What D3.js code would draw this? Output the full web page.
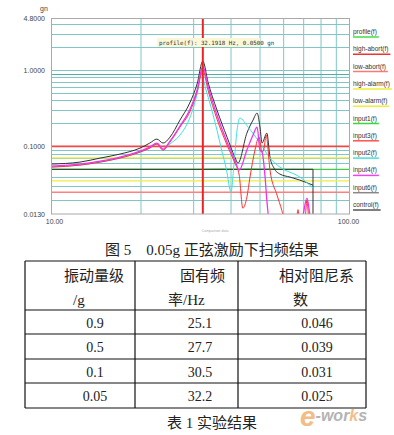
<!DOCTYPE html>
<html>
<head>
<meta charset="utf-8" />
<title>扫频结果</title>
<script src="https://d3js.org/d3.v7.min.js"></script>
<style>
  body { margin: 0; background: #fff; }
  .tick text { font-family: "Liberation Sans", Arial, sans-serif; font-size: 7px; fill: #444; }
  .cn { font-family: "Liberation Serif", "Noto Sans CJK SC", serif; fill: #222; }
</style>
</head>
<body>
<svg id="chart" width="394" height="435"></svg>
<script>
// x ticks, y ticks
var xTicks = [10, 100];
var yTicks = [4.8, 1, 0.1, 0.013];
var xGrid = [20, 30, 40, 50, 60, 70, 80, 90];
var yGrid = [4, 3, 2, 1, 0.9, 0.8, 0.7, 0.6, 0.5, 0.4, 0.3, 0.2,
             0.09, 0.08, 0.07, 0.06, 0.05, 0.04, 0.03, 0.02];

// limit lines (gn)
var limitNames  = ["high-abort", "low-abort", "high-alarm", "low-alarm", "profile"];
var limitValues = [0.1, 0.025, 0.0707, 0.0354, 0.05];
var limitColors = ["#f04848", "#ff8080", "#eeee40", "#eeee40", "#44cc44"];
var cursorFreq = 32.1918;

// measured curves
var input2F = [10, 12.5, 14.6, 17.0, 19.85, 21.4, 22.6, 23.7, 25.0, 27.0, 29.1, 30.8, 31.8, 33.0, 34.5, 35.9, 37.2, 38.6, 40.0, 40.9, 41.9, 42.8, 45.6, 50.0, 54.0, 58.3, 68.0, 75.2];
var input2V = [0.0535, 0.0568, 0.0622, 0.0702, 0.0841, 0.0949, 0.1071, 0.0893, 0.1071, 0.1406, 0.2346, 0.483, 0.885, 0.546, 0.299, 0.163, 0.0893, 0.050, 0.0251, 0.0568, 0.163, 0.2346, 0.179, 0.1104, 0.0702, 0.0535, 0.0396, 0.0284];

var input3F = [10, 12.5, 14.6, 17.0, 19.85, 21.4, 22.6, 23.7, 25.0, 27.0, 29.1, 30.8, 32.2, 33.5, 35.9, 38.8, 41.2, 42.6, 43.8, 45.2, 46.3, 48.1, 49.6, 50.8, 51.6, 52.4, 54.0, 57.0, 59.2, 61.0, 66.0, 67.0, 68.0, 70.5, 71.8, 73.0, 75.2];
var input3V = [0.0535, 0.0568, 0.0622, 0.0702, 0.0841, 0.0949, 0.1071, 0.0893, 0.1137, 0.179, 0.281, 0.514, 1.0, 0.546, 0.2277, 0.1039, 0.0604, 0.042, 0.0155, 0.0216, 0.0396, 0.0893, 0.1322, 0.0841, 0.0949, 0.1406, 0.0489, 0.023, 0.0144, 0.009, 0.010, 0.0148, 0.010, 0.010, 0.0198, 0.010, 0.009];

var input4F = [10, 12.5, 14.6, 17.0, 19.85, 21.4, 22.6, 23.7, 25.0, 27.0, 29.1, 30.8, 32.2, 33.5, 35.9, 38.8, 41.2, 42.6, 45.2, 47.4, 48.9, 50.0, 50.8, 52.0, 52.7, 54.0, 68.0, 69.6, 71.8, 73.5, 75.2];
var input4V = [0.0551, 0.0586, 0.0641, 0.0723, 0.0867, 0.0977, 0.1104, 0.092, 0.1172, 0.1845, 0.299, 0.546, 1.127, 0.616, 0.257, 0.1137, 0.066, 0.0489, 0.0893, 0.1406, 0.179, 0.0893, 0.0841, 0.0396, 0.0198, 0.0095, 0.009, 0.0125, 0.021, 0.0125, 0.009];

var input6F = [10, 12.5, 14.6, 17.0, 19.85, 21.4, 22.6, 23.7, 25.0, 27.0, 29.1, 30.8, 32.2, 33.5, 35.9, 38.8, 41.2, 42.2, 45.2, 47.4, 48.9, 50.0, 50.8, 52.7, 54.0, 55.7, 58.3, 63.0, 68.0, 75.2];
var input6V = [0.0586, 0.0622, 0.0702, 0.0792, 0.0949, 0.1104, 0.1245, 0.1104, 0.132, 0.221, 0.369, 0.655, 1.31, 0.695, 0.299, 0.132, 0.0723, 0.0604, 0.149, 0.221, 0.273, 0.179, 0.1104, 0.149, 0.0723, 0.0519, 0.0433, 0.0396, 0.0361, 0.031];

var input1F = [10, 30, 38, 42, 46, 50, 54, 60, 75.2];
var input1V = [0.05, 0.05, 0.0505, 0.0502, 0.0506, 0.0503, 0.0505, 0.05, 0.05];

var controlF = [10, 75.2, 75.2];
var controlV = [0.05, 0.05, 0.005];

// legend
var legendNames = ["profile(f)", "high-abort(f)", "low-abort(f)", "high-alarm(f)", "low-alarm(f)",
                   "input1(f)", "input3(f)", "input2(f)", "input4(f)", "input6(f)", "control(f)"];
var legendColors = ["#44dd44", "#ee3333", "#ff7777", "#eeee33", "#eeee33",
                    "#33dd33", "#ff5050", "#44dddd", "#ee44ee", "#888888", "#555555"];

// table
var tableHead1 = ["振动量级", "固有频", "相对阻尼系"];
var tableHead2 = ["/g", "率/Hz", "数"];
var levels  = ["0.9", "0.5", "0.1", "0.05"];
var natFreq = ["25.1", "27.7", "30.5", "32.2"];
var damping = ["0.046", "0.039", "0.031", "0.025"];

var svg = d3.select("#chart");

var x = d3.scaleLog().domain([10, 100]).range([51, 350]);
var y = d3.scaleLog().domain([0.013, 4.8]).range([214, 18]);

svg.append("clipPath").attr("id", "plotclip")
  .append("rect").attr("x", 51).attr("y", 18).attr("width", 299).attr("height", 196);

var plot = svg.append("g").attr("clip-path", "url(#plotclip)");

// grid
plot.selectAll(".vg").data(xGrid).enter().append("line")
  .attr("x1", d => x(d)).attr("x2", d => x(d))
  .attr("y1", 18).attr("y2", 214)
  .attr("stroke", "#80c6c6").attr("stroke-width", 1);

plot.selectAll(".hg").data(yGrid).enter().append("line")
  .attr("x1", 51).attr("x2", 350)
  .attr("y1", d => Math.round(y(d)) + 0.5).attr("y2", d => Math.round(y(d)) + 0.5)
  .attr("stroke", d => d == 0.9 ? "#55aaaa" : "#80c6c6").attr("stroke-width", 1);

// limits
plot.selectAll(".lim").data(limitValues).enter().append("line")
  .attr("x1", 51).attr("x2", 350)
  .attr("y1", d => y(d)).attr("y2", d => y(d))
  .attr("stroke", (d, i) => limitColors[i])
  .attr("stroke-width", (d, i) => i < 2 ? 1.6 : 1.3);

var line = d3.line().x(d => x(d[0])).y(d => y(d[1]));
var smooth = d3.line().curve(d3.curveMonotoneX).x(d => x(d[0])).y(d => y(d[1]));

function curve(fs, vs, color, w, gen) {
  plot.append("path")
    .datum(fs.map((f, i) => [f, vs[i]]))
    .attr("d", gen || smooth)
    .attr("fill", "none")
    .attr("stroke", color)
    .attr("stroke-width", w);
}

curve(input1F, input1V, "#33dd33", 1, line);
curve(controlF, controlV, "#333333", 1, line);
curve(input6F, input6V, "#333333", 1);
curve(input2F, input2V, "#44e0e0", 1);
curve(input3F, input3V, "#ff3030", 1);
curve(input4F, input4V, "#ee33ee", 1.3);

// cursor
plot.append("line")
  .attr("x1", x(cursorFreq)).attr("x2", x(cursorFreq))
  .attr("y1", 18).attr("y2", 214)
  .attr("stroke", "#ee2222").attr("stroke-width", 2);

// frame
svg.append("rect").attr("x", 51.5).attr("y", 18.5).attr("width", 298).attr("height", 195.5)
  .attr("fill", "none").attr("stroke", "#aaaaaa").attr("stroke-width", 1);

// axes
var yAxis = d3.axisLeft(y).tickValues(yTicks).tickFormat(d3.format(".4f")).tickSize(0).tickPadding(6);
svg.append("g").attr("transform", "translate(51,0)").call(yAxis).select(".domain").remove();

var xAxis = d3.axisBottom(x).tickValues(xTicks).tickFormat(d3.format(".2f")).tickSize(0).tickPadding(5);
var xg = svg.append("g").attr("transform", "translate(0,214)").call(xAxis);
xg.select(".domain").remove();
xg.selectAll(".tick text").attr("dx", (d, i) => i == 0 ? 3 : -2);

svg.append("text").attr("x", 44).attr("y", 11).attr("text-anchor", "middle")
  .attr("font-family", "Liberation Sans, Arial").attr("font-size", 7).attr("fill", "#444").text("gn");

// cursor label
svg.append("rect").attr("x", 157).attr("y", 38).attr("width", 103).attr("height", 9).attr("fill", "#fbf6d6");
svg.append("text").attr("x", 159).attr("y", 45)
  .attr("font-family", "DejaVu Sans Mono, monospace").attr("font-size", 5.8).attr("fill", "#333")
  .text("profile(f): " + cursorFreq.toFixed(4) + " Hz, " + limitValues[4].toFixed(4) + " gn");

// legend
var lg = svg.selectAll(".leg").data(legendNames).enter().append("g")
  .attr("transform", (d, i) => "translate(353," + (34 + i * 17.3) + ")");
lg.append("text")
  .attr("font-family", "Liberation Sans, Arial").attr("font-size", 6.5).attr("fill", "#333")
  .text(d => d);
lg.append("line")
  .attr("x1", 0).attr("y1", 3).attr("y2", 3)
  .attr("x2", function () { return this.parentNode.querySelector("text").getComputedTextLength() + 2; })
  .attr("stroke", (d, i) => legendColors[i]).attr("stroke-width", 1.5);

// small caption under plot
svg.append("text").attr("x", 215).attr("y", 232).attr("text-anchor", "middle")
  .attr("font-family", "Liberation Sans").attr("font-size", 3.5).attr("fill", "#aaa").text("Comparison data");

// figure caption
svg.append("text").attr("class", "cn").attr("x", 212).attr("y", 255).attr("text-anchor", "middle")
  .attr("font-size", 15).text("图 5　0.05g 正弦激励下扫频结果");

// table
var colX = [25, 135, 238, 366];
var rowY = [261, 310, 334, 359, 383, 408];
var tb = svg.append("g");
tb.selectAll(".rl").data(rowY).enter().append("line")
  .attr("x1", colX[0]).attr("x2", colX[3]).attr("y1", d => d).attr("y2", d => d)
  .attr("stroke", "#111").attr("stroke-width", 1.2);
tb.selectAll(".cl").data(colX).enter().append("line")
  .attr("x1", d => d).attr("x2", d => d).attr("y1", rowY[0]).attr("y2", rowY[5])
  .attr("stroke", "#111").attr("stroke-width", 1.2);

var head1X = [64, 180, 279];
var head2X = [73, 168, 293];
tb.selectAll(".h1").data(tableHead1).enter().append("text").attr("class", "cn")
  .attr("x", (d, i) => head1X[i]).attr("y", 281).attr("font-size", 15).text(d => d);
tb.selectAll(".h2").data(tableHead2).enter().append("text").attr("class", "cn")
  .attr("x", (d, i) => head2X[i]).attr("y", 305).attr("font-size", 15).text(d => d);

var cellX = [95, 200, 317];
[levels, natFreq, damping].forEach(function (col, c) {
  tb.selectAll(".c" + c).data(col).enter().append("text").attr("class", "cn")
    .attr("x", cellX[c]).attr("y", (d, i) => rowY[i + 1] + 18)
    .attr("text-anchor", "middle").attr("font-size", 14).text(d => d);
});

svg.append("text").attr("class", "cn").attr("x", 212).attr("y", 428).attr("text-anchor", "middle")
  .attr("font-size", 15).text("表 1  实验结果");

// watermark
var wm = svg.append("text").attr("x", 300).attr("y", 426)
  .attr("font-family", "Liberation Sans, Arial").attr("font-style", "italic").attr("font-weight", "bold")
  .attr("opacity", 0.75);
wm.append("tspan").attr("font-size", 28).attr("fill", "#f0a860").text("e");
wm.append("tspan").attr("font-size", 16).attr("dy", -5).attr("fill", "#9a9a9a").text("-wor");
wm.append("tspan").attr("font-size", 16).attr("fill", "#f0a860").text("k");
wm.append("tspan").attr("font-size", 16).attr("fill", "#9a9a9a").text("s");
</script>
</body>
</html>
